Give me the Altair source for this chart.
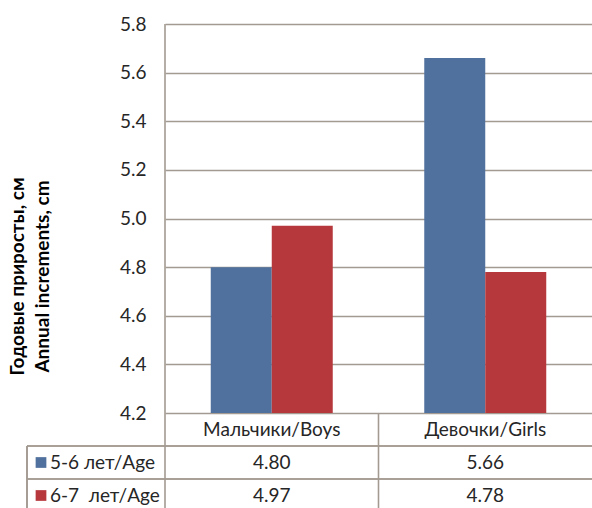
import altair as alt
import pandas as pd

# Categories, series and annual increments (cm)
categories = ["Мальчики/Boys", "Девочки/Girls"]
series = ["5-6 лет/Age", "6-7\u00a0\u00a0лет/Age"]
values_5_6 = [4.80, 5.66]
values_6_7 = [4.97, 4.78]
y_ticks = [4.2, 4.4, 4.6, 4.8, 5.0, 5.2, 5.4, 5.6, 5.8]
y_title = ["Годовые приросты, см", "Annual increments, cm"]
colors = ["#50709E", "#B6383D"]

rows = []
for s, vals in zip(series, [values_5_6, values_6_7]):
    for c, v in zip(categories, vals):
        rows.append({"category": c, "series": s, "value": v})
df = pd.DataFrame(rows)
cat_df = pd.DataFrame({"category": categories})
ser_df = pd.DataFrame({"series": series})

# Layout (pixels, relative to the plot area)
W, H = 427, 389
ROW_H = 33
LINE = "#A39A92"
FONT = "Lato, 'Open Sans', sans-serif"
TEXT = "#262626"
FS = 19
LABEL_COL = -138        # left edge of the series-label column
BOTTOM = 484            # lower end of the table borders

x_enc = alt.X("category:N", sort=categories,
              scale=alt.Scale(domain=categories, paddingInner=0, paddingOuter=0),
              axis=None)
y_val = alt.Y("value:Q",
              scale=alt.Scale(domain=[y_ticks[0], y_ticks[-1]], zero=False, nice=False),
              axis=alt.Axis(values=y_ticks, format=".1f", grid=True, gridColor=LINE,
                            gridWidth=1.6, domain=False, ticks=False, labelPadding=19,
                            labelFont=FONT, labelFontSize=FS, labelColor=TEXT,
                            title=y_title, titleFont=FONT, titleFontSize=19,
                            titleFontWeight="bold", titleColor="#000000",
                            titleAngle=270, titleAlign="center", titleBaseline="top",
                            titleX=-157, titleY=252, titleLineHeight=25))
color_enc = alt.Color("series:N", scale=alt.Scale(domain=series, range=colors), legend=None)
row_y = alt.Y("series:N", sort=series,
              scale=alt.Scale(domain=series, range=[H + ROW_H, H + 3 * ROW_H],
                              paddingInner=0, paddingOuter=0),
              axis=None)

bars = alt.Chart(df).mark_bar(size=61).encode(
    x=x_enc,
    xOffset=alt.XOffset("series:N", sort=series,
                        scale=alt.Scale(domain=series, paddingInner=0, paddingOuter=0.75)),
    y=y_val,
    y2=alt.datum(y_ticks[0]),
    color=color_enc,
)

# Table borders
h_line1 = alt.Chart(cat_df).mark_rule(color=LINE, strokeWidth=1.6).encode(
    x=alt.value(LABEL_COL), x2=alt.value(W), y=alt.value(H + ROW_H))
h_line2 = alt.Chart(cat_df).mark_rule(color=LINE, strokeWidth=1.6).encode(
    x=alt.value(LABEL_COL), x2=alt.value(W), y=alt.value(H + 2 * ROW_H))
v_left = alt.Chart(cat_df).mark_rule(color=LINE, strokeWidth=1.6).encode(
    x=alt.value(LABEL_COL), y=alt.value(H + ROW_H), y2=alt.value(BOTTOM))
v_axis = alt.Chart(cat_df).transform_filter(
    alt.datum.category == categories[0]).mark_rule(color=LINE, strokeWidth=1.6).encode(
    x=alt.X("category:N", sort=categories, bandPosition=0), y=alt.value(0), y2=alt.value(BOTTOM))
v_div = alt.Chart(cat_df).transform_filter(
    alt.datum.category == categories[1]).mark_rule(color=LINE, strokeWidth=1.6).encode(
    x=alt.X("category:N", sort=categories, bandPosition=0), y=alt.value(H), y2=alt.value(BOTTOM))

# Table contents
cat_text = alt.Chart(cat_df).mark_text(font=FONT, fontSize=FS, color=TEXT).encode(
    x=alt.X("category:N", sort=categories), y=alt.value(H + ROW_H / 2), text="category:N")
val_text = alt.Chart(df).mark_text(font=FONT, fontSize=FS, color=TEXT).encode(
    x=alt.X("category:N", sort=categories), y=row_y, text=alt.Text("value:Q", format=".2f"))
key_marks = alt.Chart(ser_df).mark_square(size=115, opacity=1).encode(
    x=alt.value(-124), y=row_y, color=color_enc)
key_text = alt.Chart(ser_df).mark_text(font=FONT, fontSize=FS, color=TEXT, align="left").encode(
    x=alt.value(-115), y=row_y, text="series:N")

chart = alt.layer(
    bars, h_line1, h_line2, v_left, v_axis, v_div, cat_text, val_text, key_marks, key_text
).resolve_scale(y="independent").properties(
    width=W, height=H,
    autosize=alt.AutoSizeParams(type="none"),
    padding={"left": 165, "top": 24, "right": 0, "bottom": 95},
    background="white",
).configure_view(stroke=None)

chart.save("out.html", embed_options={"renderer": "svg", "actions": False})
